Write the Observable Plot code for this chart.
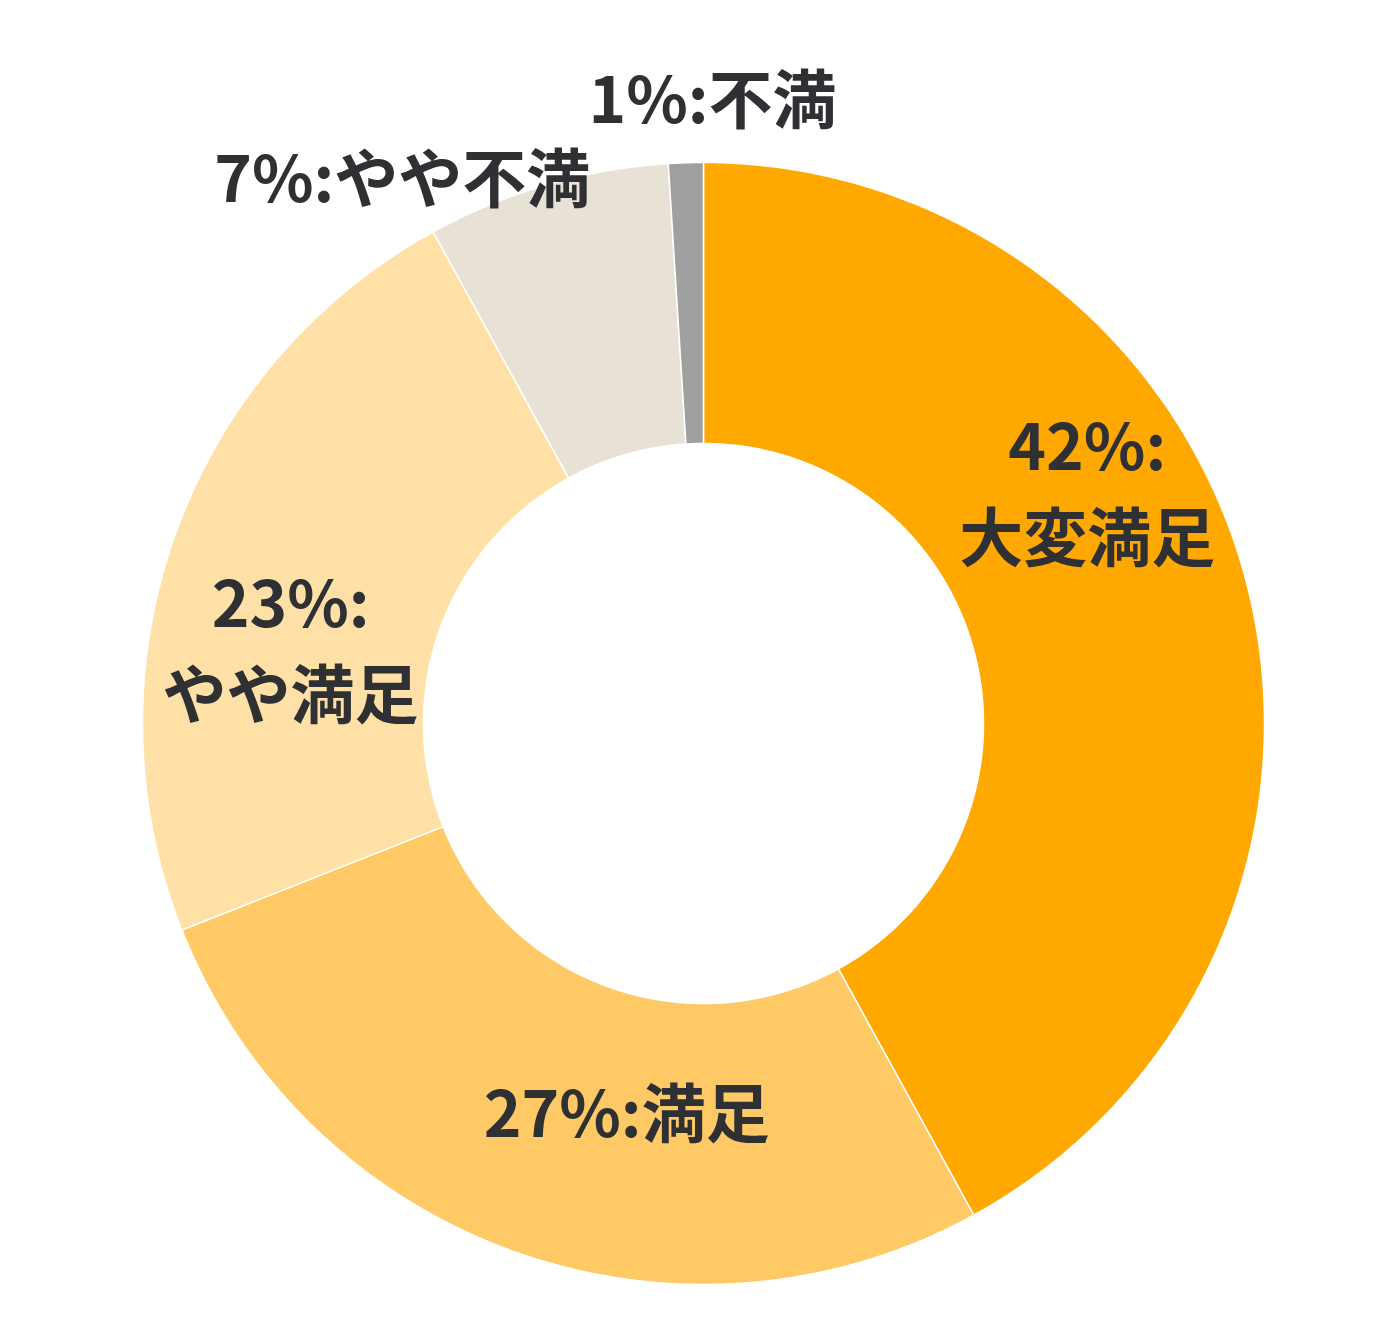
<!DOCTYPE html>
<html>
<head>
<meta charset="utf-8">
<script src="https://cdn.jsdelivr.net/npm/d3@7"></script>
<script src="https://cdn.jsdelivr.net/npm/@observablehq/plot@0.6"></script>
<style>
  html, body { margin: 0; padding: 0; background: #fff; }
</style>
</head>
<body>
<div id="chart"></div>
<script>
// Data
const categories = ["大変満足", "満足", "やや満足", "やや不満", "不満"];
const values = [42, 27, 23, 7, 1];
const colors = ["#FFA800", "#FFC965", "#FFE0A7", "#E8E2D6", "#A0A0A0"];
const labelTexts = ["42%:\n大変満足", "27%:満足", "23%:\nやや満足", "7%:やや不満", "1%:不満"];

// Label anchors (in units of outer radius, relative to the donut centre)
const labelX = [0.684, -0.137, -0.736, -0.537, 0.016];
const labelY = [0.423, -0.686, 0.143, 0.981, 1.123];

const W = 1378, H = 1330;
const innerRatio = 280 / 561;

const pie = d3.pie().sort(null).value(d => d.value).startAngle(0).endAngle(2 * Math.PI);
const slices = pie(categories.map((c, i) => ({category: c, value: values[i]})));

// Build ring polygons from the pie angles
const ring = [];
for (const s of slices) {
  const n = Math.max(8, Math.ceil((s.endAngle - s.startAngle) / 0.005));
  for (let k = 0; k <= n; k++) {
    const a = s.startAngle + (s.endAngle - s.startAngle) * k / n;
    ring.push({category: s.data.category, x: Math.sin(a), y: Math.cos(a)});
  }
  for (let k = n; k >= 0; k--) {
    const a = s.startAngle + (s.endAngle - s.startAngle) * k / n;
    ring.push({category: s.data.category, x: innerRatio * Math.sin(a), y: innerRatio * Math.cos(a)});
  }
}

const labels = categories.map((c, i) => ({category: c, text: labelTexts[i], x: labelX[i], y: labelY[i]}));

const chart = Plot.plot({
  width: W,
  height: H,
  margin: 0,
  x: {domain: [-703 / 561, (W - 703) / 561], axis: null},
  y: {domain: [(723 - H) / 561, 723 / 561], axis: null},
  color: {domain: categories, range: colors},
  style: {background: "#fff", fontFamily: "'Noto Sans CJK JP', 'Noto Sans', sans-serif"},
  marks: [
    Plot.line(ring, {x: "x", y: "y", z: "category", fill: "category", stroke: "#fff", strokeWidth: 1.5, curve: "linear-closed"}),
    Plot.text(labels, {
      x: "x", y: "y", text: "text",
      fontSize: 64, fontWeight: "bold", fill: "#2f3033",
      textAnchor: "middle", lineAnchor: "middle", lineHeight: 1.42
    })
  ]
});

document.getElementById("chart").appendChild(chart);
</script>
</body>
</html>
